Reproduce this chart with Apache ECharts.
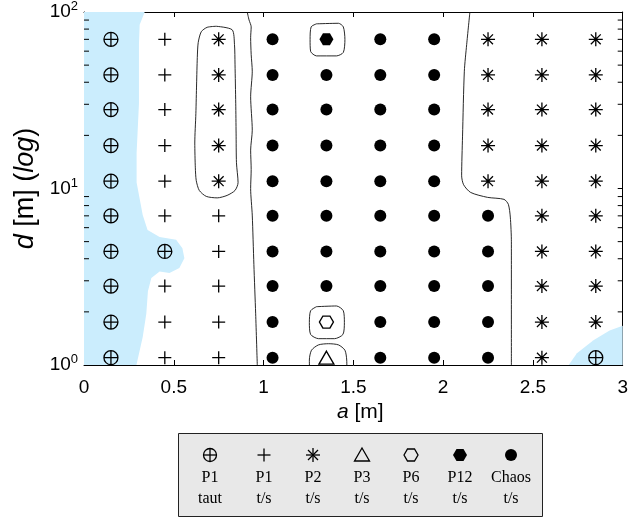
<!DOCTYPE html>
<html><head><meta charset="utf-8">
<script src="https://cdn.jsdelivr.net/npm/echarts@6/dist/echarts.min.js"></script>
<style>html,body{margin:0;padding:0;background:#fff}#c{width:631px;height:523px}</style>
</head><body><div id="c"></div>
<script>
// ---- data ----
const aValues = [0.15, 0.45, 0.75, 1.05, 1.35, 1.65, 1.95, 2.25, 2.55, 2.85];
const dValues = [70, 44, 28, 17.5, 11, 7, 4.4, 2.8, 1.75, 1.1];
const regimeRows = [
  ['taut','P1','P2','Chaos','P12','Chaos','Chaos','P2','P2','P2'],
  ['taut','P1','P2','Chaos','Chaos','Chaos','Chaos','P2','P2','P2'],
  ['taut','P1','P2','Chaos','Chaos','Chaos','Chaos','P2','P2','P2'],
  ['taut','P1','P2','Chaos','Chaos','Chaos','Chaos','P2','P2','P2'],
  ['taut','P1','P2','Chaos','Chaos','Chaos','Chaos','P2','P2','P2'],
  ['taut','P1','P1','Chaos','Chaos','Chaos','Chaos','Chaos','P2','P2'],
  ['taut','taut','P1','Chaos','Chaos','Chaos','Chaos','Chaos','P2','P2'],
  ['taut','P1','P1','Chaos','Chaos','Chaos','Chaos','Chaos','P2','P2'],
  ['taut','P1','P1','Chaos','P6','Chaos','Chaos','Chaos','P2','P2'],
  ['taut','P1','P1','Chaos','P3','Chaos','Chaos','Chaos','P2','taut']
];
const regimeKeys = ['taut','P1','P2','P3','P6','P12','Chaos'];
const legendTop = ['P1','P1','P2','P3','P6','P12','Chaos'];
const legendBottom = ['taut','t/s','t/s','t/s','t/s','t/s','t/s'];
const xTickValues = [0, 0.5, 1, 1.5, 2, 2.5, 3];
const dMinorTicks = [2,3,4,5,6,7,8,9,20,30,40,50,60,70,80,90];

// shaded (taut) regions, [a, d]
const blueLeft = [[0,100],[0.338,100],[0.310,84.6],[0.306,65.4],[0.306,30.2],[0.293,15.9],[0.293,10.8],
  [0.327,7.07],[0.354,5.82],[0.421,5.32],[0.513,5.12],[0.548,4.58],[0.559,4.03],[0.531,3.54],
  [0.476,3.32],[0.421,3.39],[0.375,3.11],[0.356,2.62],[0.347,1.95],[0.327,1.44],[0.292,1.0],[0,1]];
const blueRight = [[2.699,1.0],[2.745,1.167],[2.837,1.38],[2.927,1.57],[3.0,1.67],[3.0,1.0]];

// contour lines, [a, d]
const contourA = [[0.736,83.0],[0.825,79.3],[0.838,65.4],[0.841,50.6],[0.845,30.2],[0.847,20.6],[0.849,14.0],
  [0.858,10.8],[0.841,9.75],[0.797,9.14],[0.742,8.85],[0.681,9.02],[0.642,9.75],[0.625,11.1],[0.620,13.1],
  [0.617,18.1],[0.623,26.6],[0.627,39.1],[0.631,55.3],[0.636,67.1],[0.653,77.3],[0.686,81.9],[0.736,83.0]];
const contourB = [[0.909,100],[0.919,90.2],[0.931,82.4],[0.928,71.6],[0.931,57.5],[0.937,46.2],[0.928,33.1],
  [0.937,21.4],[0.928,16.5],[0.931,12.8],[0.928,10.0],[0.937,7.07],[0.946,3.71],[0.956,1.95],[0.965,1.0]];
const contourC = [[2.149,100],[2.131,65.4],[2.118,46.2],[2.108,19.8],[2.103,11.8],[2.114,10.5],[2.153,9.5],
  [2.247,8.91],[2.339,8.68],[2.363,8.14],[2.374,6.89],[2.380,4.99],[2.380,1.0]];
const contourD = [[1.295,85.7],[1.417,86.3],[1.444,82.4],[1.453,69.8],[1.444,59.0],[1.406,56.4],[1.295,56.4],
  [1.262,59.8],[1.259,69.8],[1.265,82.4],[1.295,85.7]];
const contourE = [[1.295,2.14],[1.406,2.16],[1.444,2.03],[1.450,1.74],[1.442,1.49],[1.395,1.41],[1.306,1.41],
  [1.262,1.49],[1.255,1.74],[1.262,2.03],[1.295,2.14]];
const contourF = [[1.256,0.914],[1.255,1.067],[1.267,1.213],[1.306,1.30],[1.362,1.32],[1.417,1.30],
  [1.453,1.213],[1.463,1.067],[1.464,0.914]];

// ---- styles ----
const P = {
  circlePlus: 'M10,0A10,10,0,0,1,20,10A10,10,0,0,1,10,20A10,10,0,0,1,0,10A10,10,0,0,1,10,0ZM10,0L10,20M0,10L20,10',
  plus: 'M10,0L10,20M0,10L20,10',
  star: 'M10,0L10,20M0,10L20,10M2.93,2.93L17.07,17.07M17.07,2.93L2.93,17.07',
  tri: 'M10,0L20,17.32L0,17.32Z',
  hex: 'M0,8.66L5,0L15,0L20,8.66L15,17.32L5,17.32Z'
};
const symStyle = {
  taut:  {path: P.circlePlus, size: [14,14], fill: false},
  P1:    {path: P.plus, size: [13,13], fill: false},
  P2:    {path: P.star, size: [14,14], fill: false},
  P3:    {path: P.tri, size: [15,13], fill: false},
  P6:    {path: P.hex, size: [14,12], fill: false},
  P12:   {path: P.hex, size: [14,12], fill: true},
  Chaos: {circle: true, size: [12,12], fill: true}
};

const chart = echarts.init(document.getElementById('c'));
const G = {left: 84, right: 5, top: 7, bottom: 158};
const FONT = '"Liberation Sans", Arial, sans-serif';
const SERIF = '"Liberation Serif", "Times New Roman", serif';

const series = [];
function polySeries(poly) {
  return {
    type: 'custom', coordinateSystem: 'cartesian2d', silent: true, z: 1,
    data: [poly[0]],
    renderItem: (params, api) => ({
      type: 'polygon', shape: {points: poly.map(p => api.coord(p))},
      style: {fill: '#cbedfd', stroke: null}
    })
  };
}
series.push(polySeries(blueLeft), polySeries(blueRight));
[contourA, contourB, contourC, contourD, contourE, contourF].forEach(c => {
  series.push({type: 'line', data: c, symbol: 'none', smooth: 0.25, clip: true, silent: true, z: 2,
    lineStyle: {color: '#111', width: 0.9}});
});
regimeKeys.forEach(k => {
  const pts = [];
  regimeRows.forEach((row, i) => row.forEach((v, j) => { if (v === k) pts.push([aValues[j], dValues[i]]); }));
  const s = symStyle[k];
  series.push({
    type: 'scatter', name: k, data: pts, z: 5, silent: true,
    symbol: s.circle ? 'circle' : 'path://' + s.path, symbolSize: s.size,
    itemStyle: s.fill ? {color: '#000', borderWidth: 0, opacity: 1}
                      : {color: 'rgba(0,0,0,0)', borderColor: '#000', borderWidth: 1.3, opacity: 1}
  });
});
// minor log ticks on left and right edges
series.push({
  type: 'custom', coordinateSystem: 'cartesian2d', silent: true, z: 6,
  data: dMinorTicks.map(v => [0, v]),
  renderItem: (params, api) => {
    const p = api.coord([0, api.value(1)]);
    const cs = params.coordSys;
    return {type: 'group', children: [
      {type: 'line', shape: {x1: cs.x, y1: p[1], x2: cs.x + 5, y2: p[1]}, style: {stroke: '#000', lineWidth: 1}},
      {type: 'line', shape: {x1: cs.x + cs.width, y1: p[1], x2: cs.x + cs.width - 5, y2: p[1]}, style: {stroke: '#000', lineWidth: 1}}
    ]};
  }
});

// legend graphics (built from primitives)
const legX = [210, 264, 313, 362, 411, 460, 511];
const LY = 455;
const stroke = {stroke: '#000', lineWidth: 1.3, fill: null};
function ln(x1, y1, x2, y2) { return {type: 'line', shape: {x1, y1, x2, y2}, style: stroke, z: 11}; }
function hexPts(cx, cy, w, h) { return [[cx - w/2, cy], [cx - w/4, cy - h/2], [cx + w/4, cy - h/2], [cx + w/2, cy], [cx + w/4, cy + h/2], [cx - w/4, cy + h/2]]; }
function legendSymbol(k, cx, cy) {
  switch (k) {
    case 'taut': return [{type: 'circle', shape: {cx, cy, r: 6.5}, style: stroke, z: 11}, ln(cx, cy - 6.5, cx, cy + 6.5), ln(cx - 6.5, cy, cx + 6.5, cy)];
    case 'P1': return [ln(cx, cy - 6.5, cx, cy + 6.5), ln(cx - 6.5, cy, cx + 6.5, cy)];
    case 'P2': return [ln(cx, cy - 7, cx, cy + 7), ln(cx - 7, cy, cx + 7, cy), ln(cx - 5, cy - 5, cx + 5, cy + 5), ln(cx + 5, cy - 5, cx - 5, cy + 5)];
    case 'P3': return [{type: 'polygon', shape: {points: [[cx, cy - 7], [cx + 7.5, cy + 6], [cx - 7.5, cy + 6]]}, style: stroke, z: 11}];
    case 'P6': return [{type: 'polygon', shape: {points: hexPts(cx, cy, 14, 12)}, style: stroke, z: 11}];
    case 'P12': return [{type: 'polygon', shape: {points: hexPts(cx, cy, 14, 12)}, style: {fill: '#000'}, z: 11}];
    default: return [{type: 'circle', shape: {cx, cy, r: 6}, style: {fill: '#000'}, z: 11}];
  }
}
const graphic = [{type: 'rect', shape: {x: 178.5, y: 433.5, width: 364, height: 83},
  style: {fill: '#e8e8e8', stroke: '#222', lineWidth: 1}, z: 10}];
regimeKeys.forEach((k, i) => {
  legendSymbol(k, legX[i], LY).forEach(e => graphic.push(e));
  graphic.push({type: 'text', x: legX[i], y: 478, style: {text: legendTop[i], font: '16px ' + SERIF, fill: '#000', align: 'center', verticalAlign: 'middle'}, z: 11});
  graphic.push({type: 'text', x: legX[i], y: 499, style: {text: legendBottom[i], font: '16px ' + SERIF, fill: '#000', align: 'center', verticalAlign: 'middle'}, z: 11});
});

const axisBase = {
  axisLine: {show: true, onZero: false, lineStyle: {color: '#000', width: 1}},
  axisTick: {show: true, inside: true, length: 5, lineStyle: {color: '#000'}},
  splitLine: {show: false}
};
chart.setOption({
  animation: false,
  grid: G,
  xAxis: [
    Object.assign({}, axisBase, {type: 'value', min: 0, max: 3, interval: 0.5, position: 'bottom',
      axisLabel: {color: '#000', fontSize: 19, fontFamily: FONT, margin: 13,
        formatter: v => xTickValues.includes(v) ? String(v) : ''},
      name: '{i|a} [m]', nameLocation: 'middle', nameGap: 37,
      nameTextStyle: {color: '#000', fontSize: 21, fontFamily: FONT, padding: [0, 0, 0, 14],
        rich: {i: {fontStyle: 'italic', fontSize: 21, fontFamily: FONT, color: '#000'}}}}),
    Object.assign({}, axisBase, {type: 'value', min: 0, max: 3, interval: 0.5, position: 'top', axisLabel: {show: false}})
  ],
  yAxis: [
    Object.assign({}, axisBase, {type: 'log', logBase: 10, min: 1, max: 100, position: 'left',
      axisLabel: {color: '#000', margin: 6, fontFamily: FONT,
        formatter: v => '{b|10}{s|' + Math.round(Math.log10(v)) + '}',
        rich: {b: {fontSize: 19, fontFamily: FONT, color: '#000'},
               s: {fontSize: 13, fontFamily: FONT, color: '#000', padding: [0, 0, 11, 0]}}},
      name: '{i|d} [m] ({i|log})', nameLocation: 'middle', nameGap: 43,
      nameTextStyle: {color: '#000', fontSize: 27, fontFamily: FONT,
        rich: {i: {fontStyle: 'italic', fontSize: 27, fontFamily: FONT, color: '#000'}}}}),
    Object.assign({}, axisBase, {type: 'log', logBase: 10, min: 1, max: 100, position: 'right', axisLabel: {show: false}})
  ],
  series: series,
  graphic: graphic
});
</script></body></html>
